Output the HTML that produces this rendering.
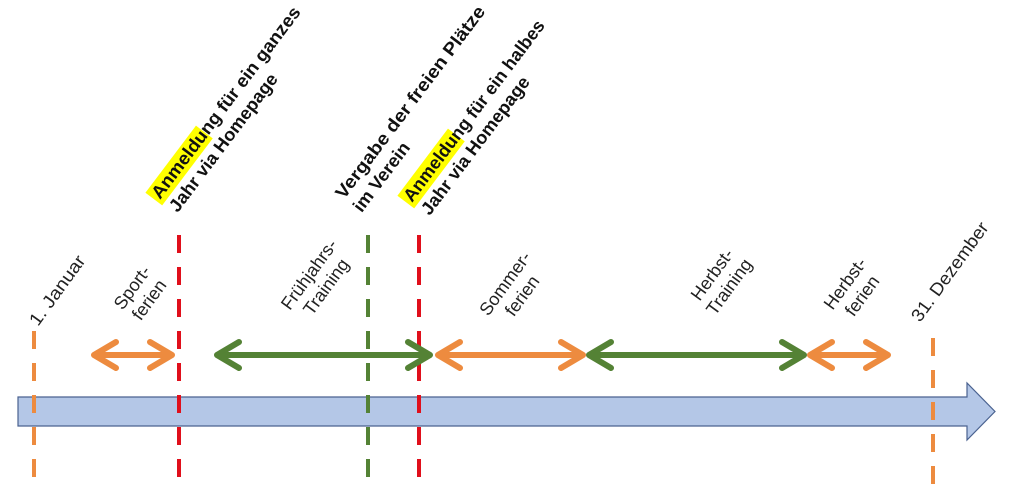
<!DOCTYPE html>
<html><head><meta charset="utf-8"><style>html,body{margin:0;padding:0;background:#fff}svg{display:block}</style></head><body>
<svg width="1024" height="495" viewBox="0 0 1024 495" xmlns="http://www.w3.org/2000/svg" font-family="Liberation Sans, sans-serif">
<polygon points="18,397 967,397 967,383 995,411.5 967,440 967,426 18,426" fill="#b4c7e7" stroke="#4a6290" stroke-width="1.2"/>
<g stroke-width="4" stroke-dasharray="18,14" fill="none">
<line x1="34" y1="331" x2="34" y2="488" stroke="#ed8b3f"/>
<line x1="179" y1="235" x2="179" y2="490" stroke="#e00f1b"/>
<line x1="368" y1="235" x2="368" y2="490" stroke="#548235"/>
<line x1="419" y1="235" x2="419" y2="490" stroke="#e00f1b"/>
<line x1="933" y1="338" x2="933" y2="490" stroke="#ed8b3f"/>
</g>
<g stroke-width="6" stroke-linecap="round" stroke-linejoin="round" fill="none">
<g stroke="#ed8b3f">
<path d="M94,355 H172 M116,342 L94,355 L116,368 M150,342 L172,355 L150,368"/>
<path d="M438,355 H583 M460,342 L438,355 L460,368 M561,342 L583,355 L561,368"/>
<path d="M810,355 H888 M832,342 L810,355 L832,368 M866,342 L888,355 L866,368"/>
</g>
<g stroke="#548235">
<path d="M217,355 H430 M239,342 L217,355 L239,368 M408,342 L430,355 L408,368"/>
<path d="M589,355 H804 M611,342 L589,355 L611,368 M782,342 L804,355 L782,368"/>
</g>
</g>
<g font-size="18" fill="#222">
<text transform="translate(38,327) rotate(-54)" textLength="82" lengthAdjust="spacingAndGlyphs">1. Januar</text>
<text transform="translate(920,323) rotate(-54)" textLength="118" lengthAdjust="spacingAndGlyphs">31. Dezember</text>
<g text-anchor="middle">
<text transform="translate(137,291) rotate(-54)"><tspan x="0" y="0">Sport-</tspan><tspan x="0" y="21">ferien</tspan></text>
<text transform="translate(314,278) rotate(-54)"><tspan x="0" y="0">Frühjahrs-</tspan><tspan x="0" y="21">Training</tspan></text>
<text transform="translate(510,287) rotate(-54)"><tspan x="0" y="0">Sommer-</tspan><tspan x="0" y="21">ferien</tspan></text>
<text transform="translate(717,278) rotate(-54)"><tspan x="0" y="0">Herbst-</tspan><tspan x="0" y="21">Training</tspan></text>
<text transform="translate(850,287) rotate(-54)"><tspan x="0" y="0">Herbst-</tspan><tspan x="0" y="21">ferien</tspan></text>
</g>
</g>
<g font-size="18" font-weight="bold" fill="#111">
<g transform="translate(160,200) rotate(-53)">
<rect x="-3" y="-16" width="84" height="21" fill="#ffff00"/>
<text x="0" y="0" textLength="235" lengthAdjust="spacingAndGlyphs">Anmeldung für ein ganzes</text>
<text x="0" y="22" textLength="168" lengthAdjust="spacingAndGlyphs">Jahr via Homepage</text>
</g>
<g transform="translate(344,200) rotate(-53)">
<text x="0" y="0" textLength="236" lengthAdjust="spacingAndGlyphs">Vergabe der freien Plätze</text>
<text x="0" y="22" textLength="82" lengthAdjust="spacingAndGlyphs">im Verein</text>
</g>
<g transform="translate(412,203) rotate(-53)">
<rect x="-3" y="-16" width="84" height="21" fill="#ffff00"/>
<text x="0" y="0" textLength="222" lengthAdjust="spacingAndGlyphs">Anmeldung für ein halbes</text>
<text x="0" y="22" textLength="168" lengthAdjust="spacingAndGlyphs">Jahr via Homepage</text>
</g>
</g>
</svg>
</body></html>
